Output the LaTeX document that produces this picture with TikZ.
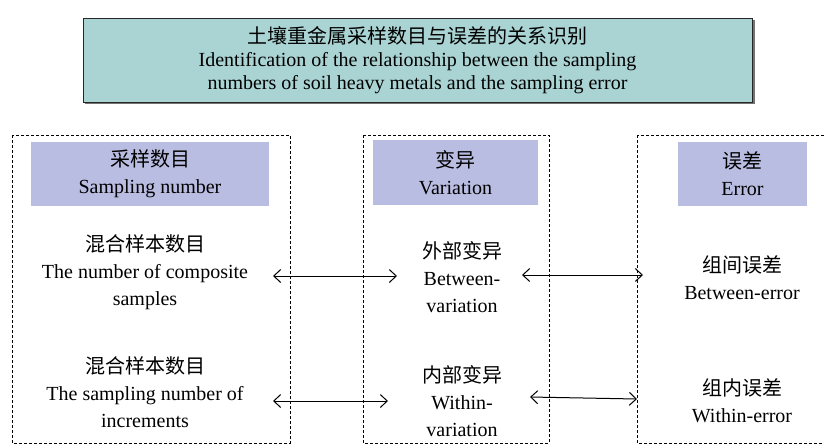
\documentclass[tikz,border=0pt]{standalone}
\usepackage{fontspec}
\setmainfont{Liberation Serif}
\newfontfamily\cjk{Noto Sans CJK SC}
\usetikzlibrary{arrows.meta}
\definecolor{titlefill}{RGB}{170,211,211}
\definecolor{headfill}{RGB}{186,189,226}
\tikzset{
  titlebox/.style={draw=black!85, line width=0.8pt, fill=titlefill, inner sep=0pt,
    align=center, font=\fontsize{20}{23}\selectfont},
  headbox/.style={fill=headfill, inner sep=0pt, align=center,
    font=\fontsize{20}{27}\selectfont},
  group/.style={draw=black, dashed, dash pattern=on 3pt off 2pt, line width=0.8pt},
  label/.style={inner sep=0pt, align=center, font=\fontsize{20}{27}\selectfont},
  link/.style={{Straight Barb[length=7pt,width=13pt]}-{Straight Barb[length=7pt,width=13pt]}, line width=1pt}
}
\begin{document}
\begin{tikzpicture}[x=1pt,y=-1pt]
\useasboundingbox (0,0) rectangle (824,445);
\clip (0,0) rectangle (824,445);

% title with a slight drop shadow
\fill[black!55] (85,20) rectangle (755,104);
\node[titlebox, minimum width=669pt, minimum height=84pt] (title) at (417.5,60)
  {{\cjk 土壤重金属采样数目与误差的关系识别}\\
   Identification of the relationship between the sampling\\
   numbers of soil heavy metals and the sampling error};

% dashed groups
\draw[group] (12,135) rectangle (290,443);
\draw[group] (363,135) rectangle (549,443);
\draw[group] (637,135) rectangle (840,443);

% column headers
\node[headbox, minimum width=238pt, minimum height=64pt] (hS) at (150,174)
  {{\cjk 采样数目}\\Sampling number};
\node[headbox, minimum width=165pt, minimum height=65pt] (hV) at (455.5,172.5)
  {{\cjk 变异}\\Variation};
\node[headbox, minimum width=129pt, minimum height=64pt] (hE) at (742.5,174)
  {{\cjk 误差}\\Error};

% items
\node[label] (s1) at (145,272) {{\cjk 混合样本数目}\\The number of composite\\samples};
\node[label] (s2) at (145,392) {{\cjk 混合样本数目}\\The sampling number of\\increments};
\node[label] (v1) at (462,277) {{\cjk 外部变异}\\Between-\\variation};
\node[label] (v2) at (462,401) {{\cjk 内部变异}\\Within-\\variation};
\node[label] (e1) at (742,277.5) {{\cjk 组间误差}\\Between-error};
\node[label] (e2) at (742,401) {{\cjk 组内误差}\\Within-error};

% relations
\coordinate (a1) at (273,276);
\coordinate (b1) at (397,276);
\coordinate (a2) at (273,401);
\coordinate (b2) at (388,401);
\coordinate (c1) at (522,275);
\coordinate (d1) at (643,275);
\coordinate (c2) at (530,397);
\coordinate (d2) at (637,399);
\draw[link] (a1) -- (b1);
\draw[link] (a2) -- (b2);
\draw[link] (c1) -- (d1);
\draw[link] (c2) -- (d2);
\end{tikzpicture}
\end{document}
